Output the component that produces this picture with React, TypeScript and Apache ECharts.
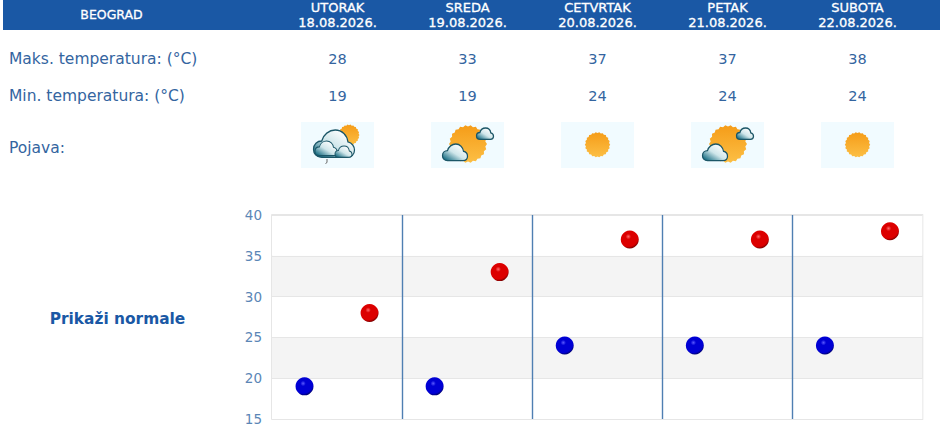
import React, { useEffect, useRef } from "react";
import * as echarts from "echarts";

const city = "BEOGRAD";
const days = ["UTORAK", "SREDA", "CETVRTAK", "PETAK", "SUBOTA"];
const dates = ["18.08.2026.", "19.08.2026.", "20.08.2026.", "21.08.2026.", "22.08.2026."];
const maxTemps = [28, 33, 37, 37, 38];
const minTemps = [19, 19, 24, 24, 24];
const icons = ["rain", "partly", "sun", "partly", "sun"];
const maxLabel = "Maks. temperatura: (°C)";
const minLabel = "Min. temperatura: (°C)";
const iconLabel = "Pojava:";
const normalsLabel = "Prikaži normale";

const FONT = "'DejaVu Sans', sans-serif";
const BLUE = "#1a58a5";
const TEXT = "#34659f";

const cloudPath =
  "M20 60 C7 60 0 51 0 42 C0 31 9 24 20 24 C24 10 38 0 53 0 C70 0 82 12 84 26 C94 28 100 36 100 44 C100 54 92 60 82 60 Z";
const sunPath = (() => {
  const teeth = 22;
  let d = "";
  for (let i = 0; i < teeth * 2; i++) {
    const a = (i * Math.PI) / teeth;
    const r = i % 2 ? 92 : 100;
    d += `${i ? "L" : "M"}${(100 + r * Math.cos(a)).toFixed(1)} ${(100 + r * Math.sin(a)).toFixed(1)} `;
  }
  return d + "Z";
})();
echarts.graphic.registerShape("cloudShape", (echarts.graphic as any).extendPath(cloudPath, {}));
echarts.graphic.registerShape("sunShape", (echarts.graphic as any).extendPath(sunPath, {}));

const cloudFill = {
  type: "linear", x: 0.8, y: 0.1, x2: 0.05, y2: 0.9,
  colorStops: [
    { offset: 0, color: "#ffffff" },
    { offset: 0.5, color: "#cfe6ea" },
    { offset: 1, color: "#166c82" },
  ],
};
const sunFill = {
  type: "linear", x: 0, y: 0, x2: 0, y2: 1,
  colorStops: [
    { offset: 0, color: "#f59c18" },
    { offset: 1, color: "#fcbf45" },
  ],
};

const cloud = (x: number, y: number, w: number, lw = 1.3) => ({
  type: "cloudShape", x, y, scaleX: w / 100, scaleY: w / 90,
  style: { fill: cloudFill, stroke: "#1b5667", lineWidth: lw / (w / 95) },
});
const sun = (cx: number, cy: number, r: number) => ({
  type: "sunShape", x: cx - r, y: cy - r, scaleX: r / 100, scaleY: r / 100,
  style: { fill: sunFill },
});

const iconAt = (kind: string, cx: number) => {
  const parts: any[] = [
    { type: "rect", shape: { x: cx - 36.5, y: 122, width: 73, height: 46 }, style: { fill: "#f1fbff" } },
  ];
  if (kind === "sun") parts.push(sun(cx, 144.7, 12.7));
  if (kind === "partly") {
    parts.push(sun(cx + 0.5, 144, 19));
    parts.push(cloud(cx + 9, 128, 17));
    parts.push(cloud(cx - 25, 144, 25));
  }
  if (kind === "rain") {
    parts.push(sun(cx + 11.5, 135, 10.5));
    parts.push(cloud(cx - 24, 130, 41));
    parts.push(cloud(cx - 22.5, 141, 22, 1));
    parts.push(cloud(cx - 2.5, 146, 17, 1));
    parts.push({
      type: "polyline",
      shape: { points: [[cx - 10.5, 159], [cx - 10.5, 162.5], [cx - 12, 163.5]] },
      style: { stroke: "#666666", lineWidth: 1, fill: "none" },
    });
  }
  return { type: "group", children: parts };
};

const label = (text: string, x: number, y: number, extra: any = {}) => ({
  type: "text", x, y,
  style: {
    text, fontFamily: FONT, fontSize: 15.5, fill: TEXT,
    textVerticalAlign: "middle", verticalAlign: "middle", ...extra,
  },
});

const colX = (i: number) => 337.5 + i * 130;
const ball = (a: string, b: string, c: string) => ({
  type: "radial", x: 0.42, y: 0.34, r: 0.68,
  colorStops: [
    { offset: 0, color: a },
    { offset: 0.22, color: b },
    { offset: 0.8, color: b },
    { offset: 1, color: c },
  ],
});

export default function App() {
  const ref = useRef<HTMLDivElement>(null);
  useEffect(() => {
    document.body.style.margin = "0";
    const chart = echarts.init(ref.current!, undefined, { renderer: "svg" });
    const center = { align: "center", textAlign: "center" };
    const header = { fill: "#ffffff", fontSize: 13, stroke: "#ffffff", lineWidth: 0.3, ...center };
    const value = { ...center, fontSize: 14.5 };
    chart.setOption({
      animation: false,
      backgroundColor: "#ffffff",
      grid: { left: 272, right: 17.5, top: 215, bottom: 13, show: true, borderColor: "#dedede", borderWidth: 1.5, backgroundColor: "transparent" },
      xAxis: {
        type: "value", min: 0, max: days.length, interval: 1,
        axisLine: { show: false }, axisTick: { show: false }, axisLabel: { show: false },
        splitLine: { show: true, showMinLine: false, showMaxLine: false, lineStyle: { color: "#4f7fb2", width: 1.4 } },
      },
      yAxis: {
        type: "value", min: 15, max: 40, interval: 5,
        axisLine: { show: false }, axisTick: { show: false },
        axisLabel: { color: "#5b86b6", fontFamily: FONT, fontSize: 13.5, margin: 10 },
        splitLine: { show: true, lineStyle: { color: "#e6e6e6", width: 1 } },
        splitArea: { show: true, areaStyle: { color: ["#ffffff", "#f4f4f4"] } },
      },
      series: [
        {
          name: "Min", type: "scatter", symbol: "circle", symbolSize: 18, z: 5,
          data: minTemps.map((v, i) => [i + 0.25, v]),
          itemStyle: { opacity: 1, color: ball("#5a5aff", "#0000d4", "#000060") },
        },
        {
          name: "Max", type: "scatter", symbol: "circle", symbolSize: 18, z: 5,
          data: maxTemps.map((v, i) => [i + 0.75, v]),
          itemStyle: { opacity: 1, color: ball("#ff6a6a", "#dc0000", "#700000") },
        },
      ],
      graphic: {
        elements: [
          { type: "rect", shape: { x: 3, y: 0, width: 937, height: 30 }, style: { fill: BLUE } },
          label(city, 111.5, 14, { ...header, fontSize: 12.5 }),
          ...days.flatMap((d, i) => [
            label(d, colX(i), 7, header),
            label(dates[i], colX(i), 22, header),
          ]),
          label(maxLabel, 9, 59),
          label(minLabel, 9, 96),
          label(iconLabel, 9, 148),
          ...maxTemps.map((v, i) => label(String(v), colX(i), 59, value)),
          ...minTemps.map((v, i) => label(String(v), colX(i), 96, value)),
          ...icons.map((k, i) => iconAt(k, colX(i))),
          label(normalsLabel, 117.5, 319, { ...center, fontWeight: "bold", fontSize: 15.4, fill: BLUE }),
        ],
      },
    });
    return () => chart.dispose();
  }, []);
  return <div ref={ref} style={{ width: 940, height: 432 }} />;
}
